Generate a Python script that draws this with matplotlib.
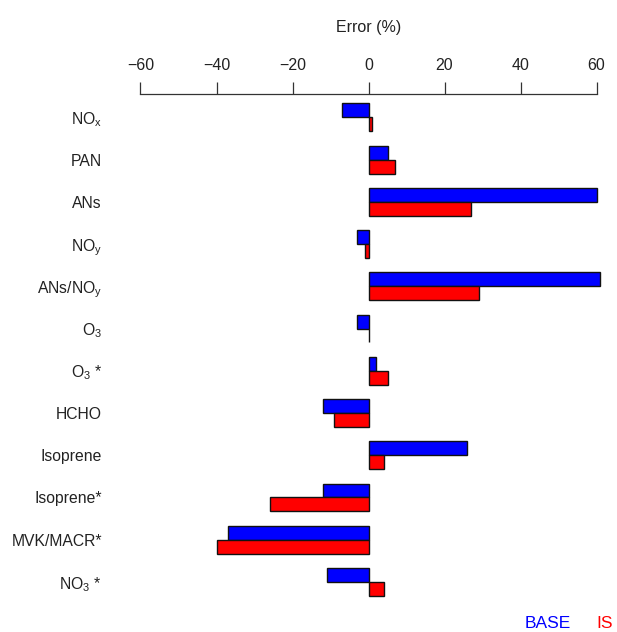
import numpy as np
import matplotlib
matplotlib.use("Agg")
import matplotlib.pyplot as plt

plt.rcParams['font.family'] = ['Liberation Sans', 'DejaVu Sans']
plt.rcParams['mathtext.default'] = 'regular'

# species and model error (%) for the two runs
species = ['NO$_x$', 'PAN', 'ANs', 'NO$_y$', 'ANs/NO$_y$', 'O$_3$', 'O$_3$ *',
           'HCHO', 'Isoprene', 'Isoprene*', 'MVK/MACR*', 'NO$_3$ *']
base_err = [-7, 5, 60, -3, 61, -3, 2, -12, 26, -12, -37, -11]
is_err = [1, 7, 27, -1, 29, 0, 5, -9, 4, -26, -40, 4]
ticks = [-60, -40, -20, 0, 20, 40, 60]

W, H = 617, 632
fig = plt.figure(figsize=(W / 100, H / 100), dpi=100)
ax = fig.add_axes([121.5 / W, 1 - 620 / H, 494 / W, (620 - 94.3) / H])

y = np.arange(len(species))
h = 0.331
ax.barh(y - h / 2, base_err, height=h, color='#0000ff', edgecolor='#111111', linewidth=1)
ax.barh(y + h / 2, is_err, height=h, color='#ff0000', edgecolor='#111111', linewidth=1)

ax.set_xlim(-65, 65)
ax.set_ylim(11.9, -0.544)

for s in ['left', 'right', 'bottom']:
    ax.spines[s].set_visible(False)
ax.spines['top'].set_bounds(-60, 60)
ax.spines['top'].set_linewidth(0.9)
ax.spines['top'].set_color('#333333')

ax.xaxis.tick_top()
ax.set_xticks(ticks)
ax.set_xticklabels([f'\u2212{-t}' if t < 0 else str(t) for t in ticks])
ax.tick_params(axis='x', direction='out', length=8.4, width=0.9, color='#333333',
               pad=7, labelsize=11.5, labelcolor='#222222')
ax.xaxis.set_label_position('top')
ax.set_xlabel('Error (%)', fontsize=11.5, labelpad=19, color='#222222')

ax.set_yticks(y)
ax.set_yticklabels(species)
ax.tick_params(axis='y', length=0, pad=14, labelsize=11.3, labelcolor='#222222')

fig.text(548 / W, 1 - 624 / H, 'BASE', color='#0000ff', fontsize=12.5, ha='center', va='center')
fig.text(605 / W, 1 - 624 / H, 'IS', color='#ff0000', fontsize=12.5, ha='center', va='center')

fig.savefig('out.png', dpi=100)
